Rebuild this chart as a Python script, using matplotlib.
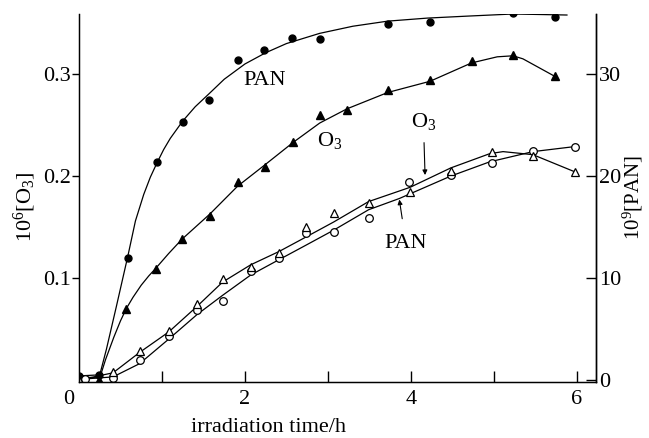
import matplotlib
matplotlib.use("Agg")
import matplotlib.pyplot as plt
import matplotlib.transforms as mtransforms

plt.rcParams["font.family"] = "Liberation Serif"
plt.rcParams["mathtext.fontset"] = "custom"
plt.rcParams["mathtext.rm"] = "Liberation Serif"
plt.rcParams["mathtext.it"] = "Liberation Serif:italic"

# --- data ---------------------------------------------------------------
# run 1: PAN (filled circles) and O3 (filled triangles)
pan_t = [0.0, 0.24, 0.59, 0.94, 1.25, 1.57, 1.92, 2.23, 2.57, 2.91, 3.72, 4.23, 5.23, 5.73]
pan_c = [0.004, 0.005, 0.120, 0.214, 0.253, 0.275, 0.314, 0.324, 0.335, 0.334, 0.349, 0.351, 0.360, 0.356]

o3_t = [0.24, 0.57, 0.93, 1.24, 1.58, 1.91, 2.24, 2.58, 2.90, 3.23, 3.72, 4.23, 4.73, 5.23, 5.73]
o3_c = [0.000, 0.070, 0.109, 0.138, 0.161, 0.194, 0.209, 0.233, 0.260, 0.265, 0.284, 0.294, 0.313, 0.319, 0.298]

# run 2: O3 (open triangles) and PAN (open circles)
o3b_t = [0.0, 0.41, 0.73, 1.08, 1.42, 1.74, 2.07, 2.41, 2.73, 3.07, 3.49, 3.99, 4.48, 4.98, 5.47, 5.98]
o3b_c = [0.000, 0.008, 0.028, 0.048, 0.075, 0.099, 0.111, 0.125, 0.150, 0.164, 0.174, 0.184, 0.205, 0.224, 0.220, 0.204]

panb_t = [0.07, 0.41, 0.73, 1.08, 1.42, 1.73, 2.07, 2.41, 2.73, 3.07, 3.49, 3.98, 4.48, 4.98, 5.47, 5.98]
panb_c = [0.001, 0.002, 0.020, 0.043, 0.069, 0.077, 0.107, 0.120, 0.144, 0.145, 0.159, 0.194, 0.201, 0.213, 0.225, 0.229]

# hand-drawn curves
pan_fit_t = [0.0, 0.25, 0.33, 0.45, 0.59, 0.68, 0.78, 0.86, 0.94, 1.02, 1.10, 1.25, 1.40, 1.57,
             1.75, 2.00, 2.25, 2.50, 2.90, 3.30, 3.72, 4.20, 4.70, 5.23, 5.88]
pan_fit_c = [0.004, 0.005, 0.030, 0.072, 0.122, 0.156, 0.182, 0.199, 0.213, 0.226, 0.237, 0.254, 0.268, 0.281,
             0.295, 0.310, 0.321, 0.330, 0.340, 0.347, 0.352, 0.355, 0.357, 0.359, 0.358]

o3_fit_t = [0.0, 0.25, 0.32, 0.42, 0.50, 0.57, 0.65, 0.75, 0.84, 0.93, 1.08, 1.24, 1.58, 1.91,
            2.24, 2.58, 2.90, 3.23, 3.72, 4.23, 4.73, 5.04, 5.23, 5.35, 5.73]
o3_fit_c = [0.003, 0.002, 0.020, 0.042, 0.058, 0.070, 0.081, 0.093, 0.102, 0.110, 0.124, 0.138, 0.163, 0.190,
            0.211, 0.233, 0.252, 0.266, 0.282, 0.293, 0.311, 0.317, 0.318, 0.315, 0.298]

o3b_fit_t = [0.0, 0.41, 0.73, 1.08, 1.42, 1.73, 2.07, 2.41, 2.73, 3.07, 3.49, 3.99, 4.48, 4.95, 5.11, 5.47, 5.98]
o3b_fit_c = [0.000, 0.007, 0.027, 0.047, 0.072, 0.096, 0.113, 0.126, 0.140, 0.155, 0.175, 0.189, 0.208, 0.222, 0.224, 0.221, 0.204]

panb_fit_t = [0.07, 0.41, 0.73, 1.08, 1.42, 1.73, 2.07, 2.41, 2.73, 3.07, 3.49, 3.86, 4.48, 4.95, 5.47, 5.98]
panb_fit_c = [0.001, 0.003, 0.016, 0.040, 0.064, 0.083, 0.103, 0.118, 0.132, 0.147, 0.167, 0.178, 0.200, 0.214, 0.224, 0.229]

x_ticks = [1, 2, 3, 4, 5, 6]
x_labels = ["", "2", "", "4", "", "6"]
left_ticks = [0.1, 0.2, 0.3]
right_ticks = [0, 10, 20, 30]

# --- plot ------------------------------------------------------------------
fig = plt.figure(figsize=(6.49, 4.38), dpi=100)
ax = fig.add_axes([79 / 649, 56 / 438, 517 / 649, 368 / 438])

lw = 0.9
ax.plot(pan_fit_t, pan_fit_c, color="black", lw=lw)
ax.plot(o3_fit_t, o3_fit_c, color="black", lw=lw)
ax.plot(o3b_fit_t, o3b_fit_c, color="black", lw=lw)
ax.plot(panb_fit_t, panb_fit_c, color="black", lw=lw)

ax.plot(pan_t, pan_c, "o", color="black", ms=5, ls="none")
ax.plot(o3_t, o3_c, "^", color="black", ms=5.5, ls="none")
ax.plot(panb_t, panb_c, "o", mfc="white", mec="black", mew=0.9, ms=5.5, ls="none")
ax.plot(o3b_t, o3b_c, "^", mfc="white", mec="black", mew=0.9, ms=6, ls="none")

ax.set_xlim(0, 6.23)
ax.set_ylim(-0.002, 0.359)

ax.spines["top"].set_visible(False)
for s in ["left", "bottom", "right"]:
    ax.spines[s].set_linewidth(1.0)

ax.set_xticks(x_ticks)
ax.set_xticklabels(x_labels)
ax.tick_params(axis="x", direction="in", length=8, width=1.0, labelsize=16, pad=6)
ax.set_yticks(left_ticks)
ax.set_yticklabels(["0.1", "0.2", "0.3"])
ax.tick_params(axis="y", direction="out", length=5, width=1.0, labelsize=16, pad=1)

# corner zero
trans = mtransforms.blended_transform_factory(ax.transData, ax.transAxes)
ax.text(-0.13, -0.047, "0", transform=trans, ha="center", va="center", fontsize=16)

ax2 = ax.twinx()
ax2.set_ylim(-0.2, 35.9)
ax2.set_yticks(right_ticks)
ax2.tick_params(axis="y", direction="in", length=7, width=1.0, labelsize=16, pad=2)
ax2.spines["top"].set_visible(False)
ax2.spines["right"].set_linewidth(1.0)

ax.text(0.366, -0.124, "irradiation time/h", transform=ax.transAxes,
        ha="center", va="center", fontsize=16)
ax.text(-0.104, 0.476, r"10$^6$[O$_3$]", transform=ax.transAxes,
        ha="center", va="center", rotation=90, fontsize=16)
ax.text(1.072, 0.5, r"10$^9$[PAN]", transform=ax.transAxes,
        ha="center", va="center", rotation=90, fontsize=15)

# curve labels
ax.text(2.24, 0.294, "PAN", ha="center", va="center", fontsize=16)
ax.text(3.02, 0.235, r"O$_3$", ha="center", va="center", fontsize=16)

ax.annotate(r"O$_3$", xy=(4.17, 0.201), xytext=(4.15, 0.254),
            ha="center", va="center", fontsize=16,
            arrowprops=dict(arrowstyle="-|>", color="black", lw=0.8,
                            mutation_scale=7, shrinkA=6, shrinkB=0))
ax.annotate("PAN", xy=(3.86, 0.177), xytext=(3.94, 0.134),
            ha="center", va="center", fontsize=16,
            arrowprops=dict(arrowstyle="-|>", color="black", lw=0.8,
                            mutation_scale=7, shrinkA=9, shrinkB=0))

fig.savefig("out.png", dpi=100)
